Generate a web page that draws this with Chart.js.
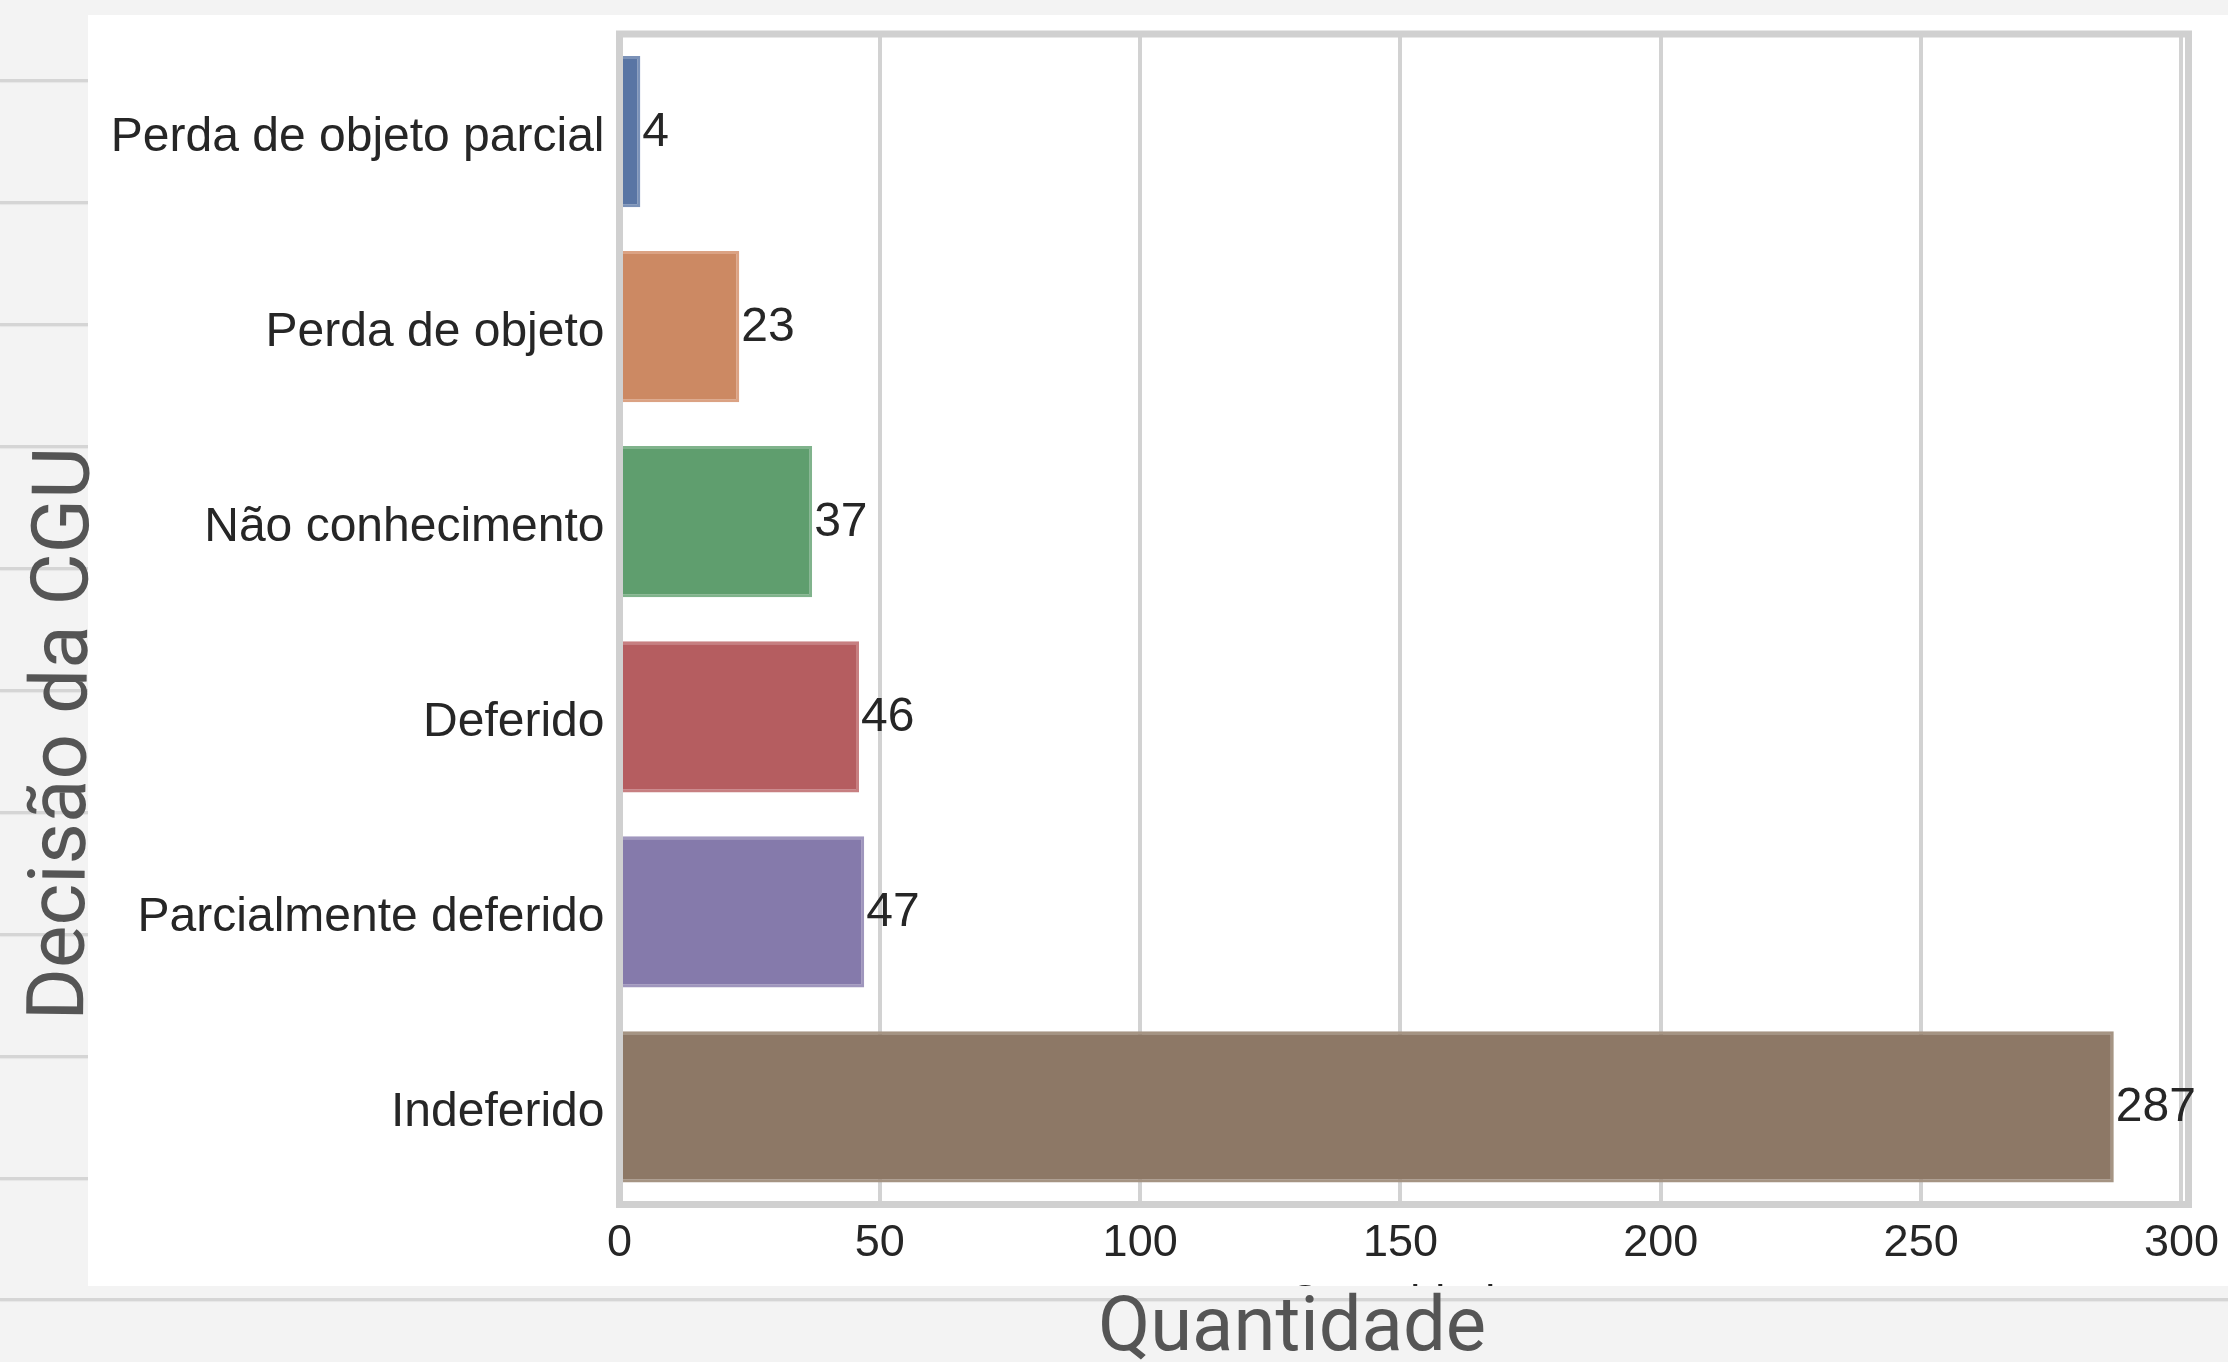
<!DOCTYPE html>
<html lang="pt-BR">
<head>
<meta charset="utf-8">
<title>Decisão da CGU</title>
<script src="https://cdn.jsdelivr.net/npm/chart.js@4.4.1/dist/chart.umd.min.js"></script>
<style>
  html, body { margin: 0; padding: 0; }
  body { width: 2228px; height: 1362px; background: #f3f3f3; position: relative; overflow: hidden; }
  .linha { position: absolute; left: 0; height: 3px; background: #d5d5d5; box-shadow: 0 1px 1px #e6e6e6; }
  #painel { position: absolute; left: 88px; top: 15px; width: 2140px; height: 1271px; background: #fff; }
  #grafico { position: absolute; left: 0; top: 0; }
</style>
</head>
<body>
<div id="painel"></div>
<canvas id="grafico" width="2228" height="1362"></canvas>
<script>
const categorias = ['Perda de objeto parcial', 'Perda de objeto', 'Não conhecimento', 'Deferido', 'Parcialmente deferido', 'Indeferido'];
const quantidades = [4, 23, 37, 46, 47, 287];
const coresBarras = ['#5975a4', '#cc8963', '#5f9e6e', '#b55d60', '#857aab', '#8d7866'];
const coresBordas = ['#7b92b8', '#dba283', '#80b38c', '#c77f81', '#9f96bd', '#a59483'];
const ticksX = [0, 50, 100, 150, 200, 250, 300];
const limiteX = 301.35;
const tituloX = 'Quantidade';
const tituloY = 'Decisão da CGU';

// linhas do fundo (caderno) atrás do painel branco
[80, 202, 324, 446, 568, 690, 812, 934, 1056, 1178].forEach(y => {
  const d = document.createElement('div');
  d.className = 'linha';
  d.style.top = (y - 1) + 'px';
  d.style.width = '88px';
  document.body.insertBefore(d, document.body.firstChild);
});
const base = document.createElement('div');
base.className = 'linha';
base.style.top = '1298px';
base.style.width = '2228px';
document.body.insertBefore(base, document.body.firstChild);

const fonteEixo = '"Liberation Sans", Arial, sans-serif';

const extras = {
  id: 'extras',
  afterDatasetsDraw(chart) {
    const { ctx, chartArea: a } = chart;
    const meta = chart.getDatasetMeta(0);
    ctx.save();
    ctx.strokeStyle = '#d0d0d0';
    ctx.lineWidth = 7;
    ctx.strokeRect(a.left, a.top, a.right - a.left, a.bottom - a.top);

    ctx.font = '48px ' + fonteEixo;
    ctx.fillStyle = '#262626';
    ctx.textAlign = 'left';
    ctx.textBaseline = 'middle';
    meta.data.forEach((barra, i) => {
      ctx.fillText(String(quantidades[i]), barra.x + 2, barra.y + 1);
    });
    ctx.restore();
  },
  afterDraw(chart) {
    const { ctx, chartArea: a } = chart;
    ctx.save();
    // título original do eixo x, cortado pela faixa cinza
    ctx.beginPath();
    ctx.rect(88, 15, 2140, 1271);
    ctx.clip();
    ctx.font = '45px ' + fonteEixo;
    ctx.fillStyle = '#262626';
    ctx.textAlign = 'center';
    ctx.textBaseline = 'alphabetic';
    ctx.fillText(tituloX, (a.left + a.right) / 2, 1316);
    ctx.restore();

    ctx.save();
    ctx.font = '76px Roboto, sans-serif';
    ctx.fillStyle = '#555555';
    ctx.textAlign = 'center';
    ctx.textBaseline = 'alphabetic';
    ctx.fillText(tituloX, 1292, 1350);

    ctx.font = '80px Roboto, sans-serif';
    ctx.translate(86, 734);
    ctx.rotate((-90 + 0.6) * Math.PI / 180);
    ctx.fillText(tituloY, 0, 0);
    ctx.restore();
  }
};

new Chart(document.getElementById('grafico'), {
  type: 'bar',
  data: {
    labels: categorias,
    datasets: [{
      data: quantidades,
      backgroundColor: coresBarras,
      borderColor: coresBordas,
      borderWidth: 3,
      borderSkipped: 'start',
      categoryPercentage: 1,
      barPercentage: 0.775
    }]
  },
  options: {
    indexAxis: 'y',
    responsive: false,
    animation: false,
    devicePixelRatio: 1,
    layout: { padding: { top: 34, right: 39.5, bottom: 0, left: 0 } },
    plugins: { legend: { display: false }, tooltip: { enabled: false } },
    scales: {
      x: {
        min: 0,
        max: limiteX,
        afterFit: (escala) => {
          escala.height = 157.5;
          escala.paddingLeft = 0;
          escala.paddingRight = 0;
        },
        afterBuildTicks: (escala) => { escala.ticks = ticksX.map(v => ({ value: v })); },
        border: { display: false },
        grid: { color: '#d2d2d2', lineWidth: 4, drawTicks: false },
        ticks: {
          includeBounds: false,
          padding: 12,
          color: '#262626',
          font: { family: fonteEixo, size: 45 }
        }
      },
      y: {
        afterFit: (escala) => {
          escala.width = 619.5;
          escala.paddingTop = 0;
          escala.paddingBottom = 0;
        },
        border: { display: false },
        grid: { display: false, drawTicks: false },
        ticks: {
          padding: 15,
          labelOffset: 6,
          color: '#262626',
          font: { family: fonteEixo, size: 48 }
        }
      }
    }
  },
  plugins: [extras]
});
</script>
</body>
</html>
